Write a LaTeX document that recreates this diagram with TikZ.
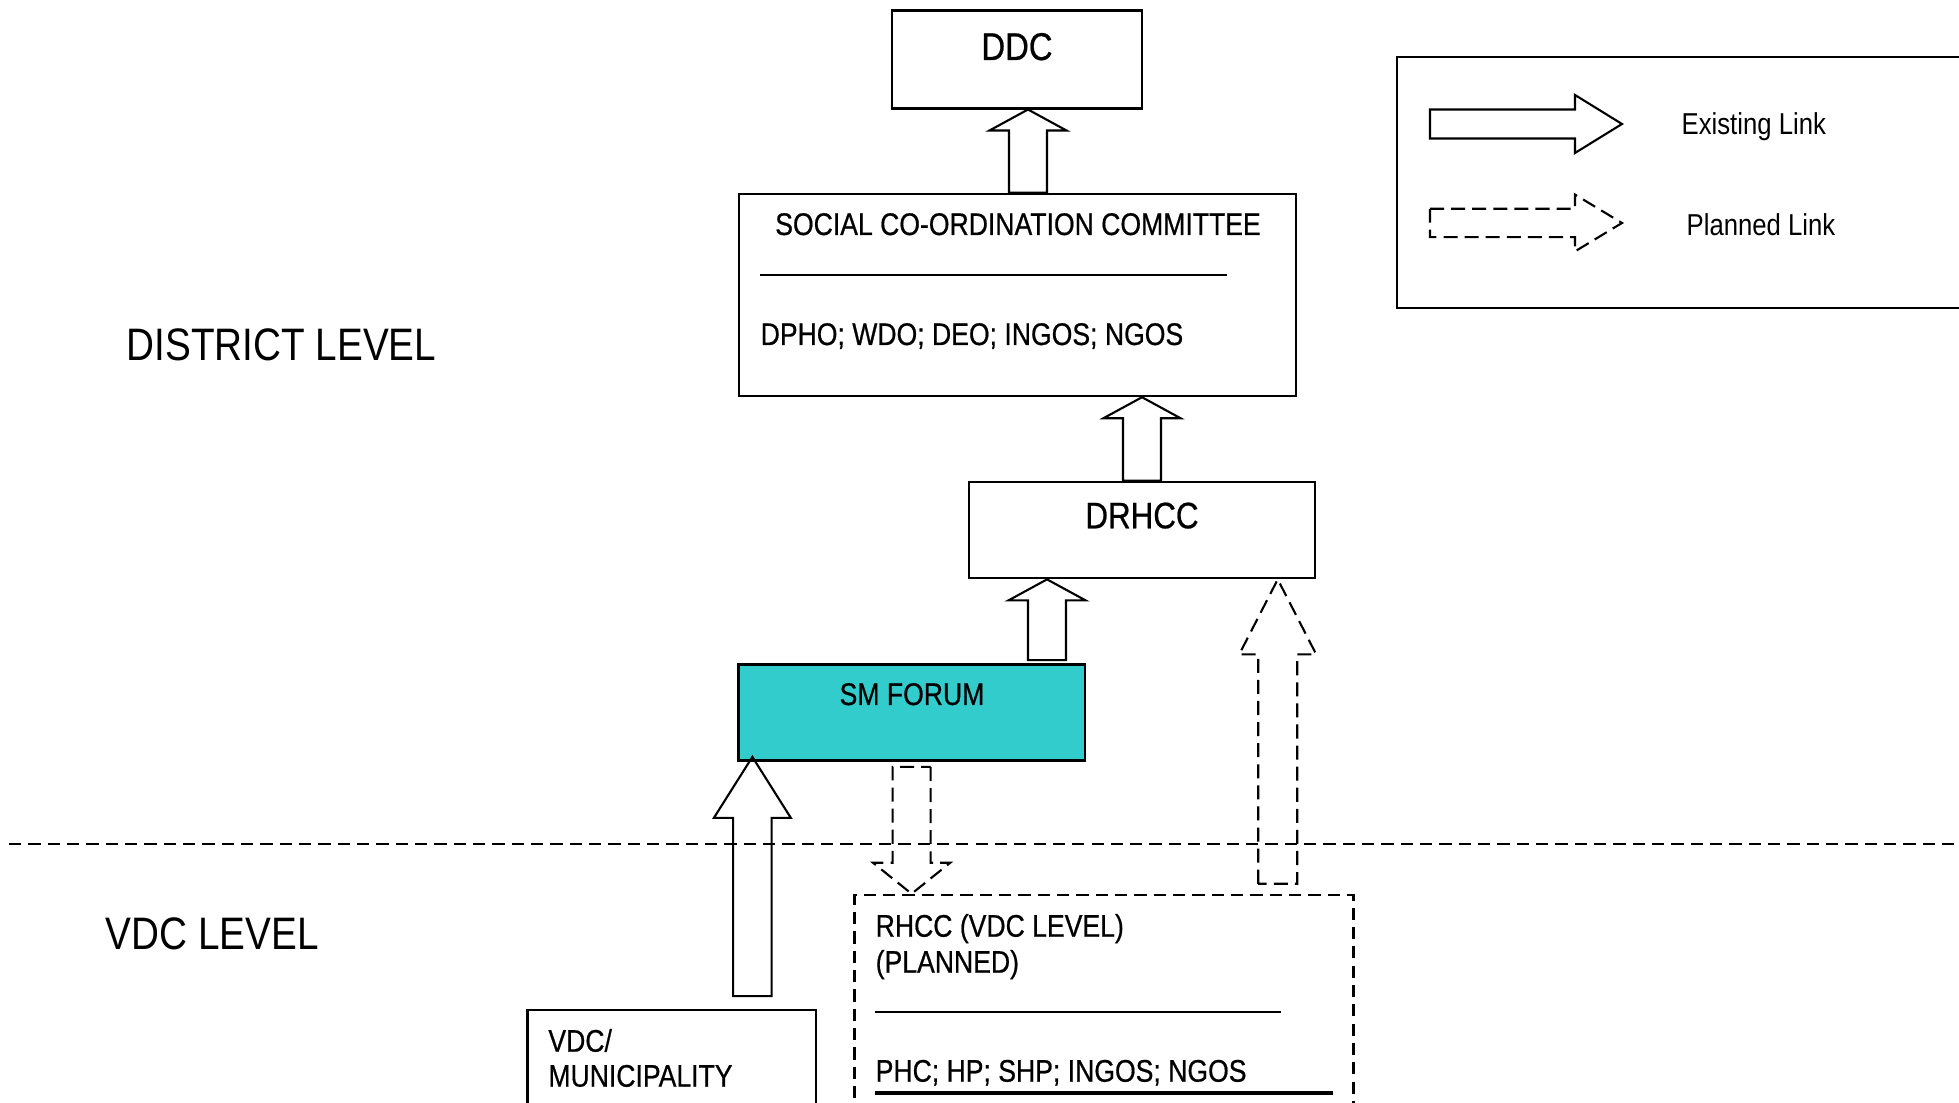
\documentclass[tikz,border=0pt]{standalone}
\usepackage{fontspec}
\setmainfont{Liberation Sans}[FakeStretch=0.85]
\newfontfamily\boxfont{Liberation Sans}[FakeStretch=0.85, FakeBold=0.6]
\usepackage{tikz}
\usetikzlibrary{positioning,calc}

\definecolor{forumteal}{RGB}{51,204,204}

% fat arrow: [style]{from}{tip}{shaft half width}{head half width}{head length}
\newcommand{\blockarrow}[6][]{%
  \coordinate (ba-s) at (#2);
  \coordinate (ba-t) at (#3);
  \coordinate (ba-h) at ($(ba-t)!#6!(ba-s)$);
  \draw[#1] ($(ba-s)!#4!90:(ba-t)$) -- ($(ba-h)!#4!90:(ba-t)$) -- ($(ba-h)!#5!90:(ba-t)$)
    -- (ba-t) -- ($(ba-h)!#5!-90:(ba-t)$) -- ($(ba-h)!#4!-90:(ba-t)$) -- ($(ba-s)!#4!-90:(ba-t)$) -- cycle;
}

\begin{document}
\begin{tikzpicture}[
        box/.style={draw, line width=0.7pt, inner sep=0pt},
        planbox/.style={box, dash pattern=on 3.5pt off 2pt},
        link/.style={line width=0.6pt},
        planlink/.style={link, dash pattern=on 4pt off 2pt},
        txt/.style={font=\boxfont\fontsize{8.9}{10.3}\selectfont, inner sep=0pt},
        head/.style={inner sep=0pt},
        level/.style={font=\fontsize{12.95}{16}\selectfont, inner sep=0pt}
      ]
        \clip (0,0) rectangle (19.59,11.03);

        % border between the levels
        \draw[dash pattern=on 3.5pt off 2pt, line width=0.6pt] (0.09,2.59) -- (19.7,2.59);
        \node[level, anchor=base west] (district) at (1.26,7.42) {DISTRICT LEVEL};
        \node[level, anchor=base west] (vdclevel) at (1.05,1.53) {VDC LEVEL};

        % district level
        \node[box, minimum width=2.5cm, minimum height=0.98cm] (ddc) at (10.17,10.437) {};
        \node[head, font=\boxfont\fontsize{11}{13}\selectfont, anchor=base] (ddctext) at (10.17,10.43) {DDC};

        \node[box, minimum width=5.57cm, minimum height=2.02cm] (scc) at (10.175,8.08) {};
        \node[txt, anchor=base] (scctitle) at (10.18,8.68) {SOCIAL CO-ORDINATION COMMITTEE};
        \draw[line width=0.5pt] (7.60,8.28) -- (12.27,8.28);
        \node[txt, anchor=base west] (sccmembers) at (7.60,7.58) {DPHO; WDO; DEO; INGOS; NGOS};

        \node[box, minimum width=3.46cm, minimum height=0.963cm] (drhcc) at (11.42,5.73) {};
        \node[head, font=\boxfont\fontsize{10.5}{12}\selectfont, anchor=base] (drhcctext) at (11.42,5.747) {DRHCC};

        \node[box, fill=forumteal, minimum width=3.464cm, minimum height=0.964cm] (sm) at (9.116,3.905) {};
        \node[txt, anchor=base] (smtext) at (9.12,3.98) {SM FORUM};

        % vdc level
        \node[box, minimum width=2.882cm, minimum height=1.4cm] (vdc) at (6.717,0.23) {};
        \node[txt, anchor=base west] (vdctext1) at (5.477,0.513) {VDC/};
        \node[txt, anchor=base west] (vdctext2) at (5.477,0.163) {MUNICIPALITY};

        \node[planbox, minimum width=4.994cm, minimum height=2.6cm] (rhcc) at (11.04,0.78) {};
        \node[txt, anchor=base west] (rhcctext1) at (8.75,1.663) {RHCC (VDC LEVEL)};
        \node[txt, anchor=base west] (rhcctext2) at (8.75,1.303) {(PLANNED)};
        \draw[line width=0.5pt] (8.75,0.913) -- (12.81,0.913);
        \node[txt, anchor=base west] (rhccmembers) at (8.75,0.213) {PHC; HP; SHP; INGOS; NGOS};
        \draw[line width=1.2pt] (8.75,0.097) -- (13.325,0.097);

        % links
        \coordinate (sccup) at ($(scc.north)+(0.105,0)$);
        \blockarrow[link]{sccup}{sccup |- ddc.south}{0.19cm}{0.385cm}{0.21cm}
        \blockarrow[link]{drhcc.north}{drhcc.north |- scc.south}{0.19cm}{0.385cm}{0.21cm}
        \coordinate (smup) at ($(sm.north east)+(-0.39,0)$);
        \blockarrow[link]{$(smup)+(0,0.03)$}{smup |- drhcc.south}{0.19cm}{0.385cm}{0.21cm}
        \coordinate (vdcup) at ($(sm.south west)+(0.152,0)$);
        \blockarrow[link]{$(vdcup |- vdc.north)+(0,0.127)$}{$(vdcup)+(0,0.05)$}{0.192cm}{0.385cm}{0.61cm}
        \blockarrow[planlink]{$(sm.south)+(0,-0.05)$}{sm.south |- rhcc.north}{0.19cm}{0.386cm}{0.31cm}
        \coordinate (rhccup) at ($(drhcc.south east)+(-0.385,0)$);
        \blockarrow[planlink]{$(rhccup |- rhcc.north)+(0,0.1)$}{rhccup}{0.195cm}{0.385cm}{0.75cm}

        % legend
        \node[box, minimum width=6.5cm, minimum height=2.51cm, anchor=north west] (legend) at (13.96,10.473) {};
        \coordinate (exfrom) at (14.30,9.79);
        \coordinate (plfrom) at (14.30,8.80);
        \blockarrow[link]{exfrom}{$(exfrom)+(1.92,0)$}{0.145cm}{0.29cm}{0.47cm}
        \blockarrow[planlink]{plfrom}{$(plfrom)+(1.92,0)$}{0.142cm}{0.284cm}{0.47cm}
        \node[inner sep=0pt, font=\fontsize{8.6}{10}\selectfont, anchor=base west] (exlabel) at (16.81,9.68) {Existing Link};
        \node[inner sep=0pt, font=\fontsize{8.6}{10}\selectfont, anchor=base west] (pllabel) at (16.86,8.675) {Planned Link};
      \end{tikzpicture}
\end{document}
